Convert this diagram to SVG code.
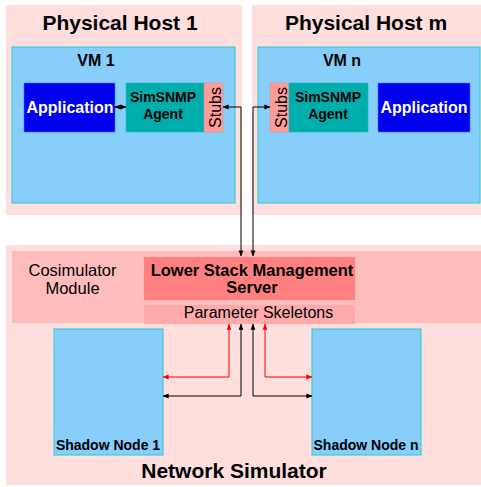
<svg xmlns="http://www.w3.org/2000/svg" width="481" height="487" viewBox="0 0 481 487">
  <style>
    text { font-family: "Liberation Sans", Arial, sans-serif; fill: #000; }
    .b { font-weight: bold; }
    .mid { text-anchor: middle; }
    .host { fill: #ffdede; }
    .vm { fill: #87cefa; stroke: #22cccc; stroke-width: 1; }
    .app { fill: #0000ee; stroke: #4477ff; stroke-width: 0.6; }
    .agent { fill: #00adad; stroke: #22bbbb; stroke-width: 0.6; }
    .stub { fill: #ff9c9c; stroke: #e08080; stroke-width: 0.4; }
    .wire { fill: none; stroke: #000; stroke-width: 1; }
    .wire-red { fill: none; stroke: #ff0000; stroke-width: 1; }
  </style>
  <defs>
    <marker id="ah" viewBox="0 0 8 8" refX="7.5" refY="4" markerWidth="6" markerHeight="6" markerUnits="userSpaceOnUse" orient="auto-start-reverse">
      <path d="M0,0.8 L8,4 L0,7.2 Z" fill="#000"/>
    </marker>
    <marker id="ahr" viewBox="0 0 8 8" refX="7.5" refY="4" markerWidth="6" markerHeight="6" markerUnits="userSpaceOnUse" orient="auto-start-reverse">
      <path d="M0,0.8 L8,4 L0,7.2 Z" fill="#ff0000"/>
    </marker>
  </defs>

  <!-- Physical Host 1 -->
  <g id="host1">
    <rect class="host" x="6" y="5" width="236" height="210"/>
    <text class="b mid" x="120" y="30" font-size="21">Physical Host 1</text>
  </g>
  <g id="vm1">
    <rect class="vm" x="12" y="47" width="223" height="156"/>
    <text class="b mid" x="96" y="66" font-size="16">VM 1</text>
  </g>
  <g id="app1">
    <rect class="app" x="24" y="83" width="91" height="49"/>
    <text class="b mid" x="70" y="113" font-size="16" style="fill:#fff">Application</text>
  </g>
  <g id="agent1">
    <rect class="agent" x="126" y="83" width="78" height="49"/>
    <text class="b mid" x="163" y="102" font-size="14">SimSNMP</text>
    <text class="b mid" x="163" y="119" font-size="14">Agent</text>
  </g>
  <g id="stubs1">
    <rect class="stub" x="204" y="83" width="19" height="49"/>
    <text class="mid" transform="translate(221,107.5) rotate(-90)" font-size="16">Stubs</text>
  </g>

  <!-- Physical Host m -->
  <g id="hostm">
    <rect class="host" x="252" y="5" width="229" height="210"/>
    <text class="b mid" x="366" y="30" font-size="21">Physical Host m</text>
  </g>
  <g id="vmn">
    <rect class="vm" x="258" y="47" width="222" height="156"/>
    <text class="b mid" x="342" y="66" font-size="16">VM n</text>
  </g>
  <g id="stubsn">
    <rect class="stub" x="270" y="83" width="19" height="49"/>
    <text class="mid" transform="translate(287,107.5) rotate(-90)" font-size="16">Stubs</text>
  </g>
  <g id="agentn">
    <rect class="agent" x="289" y="83" width="79" height="49"/>
    <text class="b mid" x="328" y="102" font-size="14">SimSNMP</text>
    <text class="b mid" x="328" y="119" font-size="14">Agent</text>
  </g>
  <g id="appn">
    <rect class="app" x="378" y="83" width="92" height="49"/>
    <text class="b mid" x="424" y="113" font-size="16" style="fill:#fff">Application</text>
  </g>

  <!-- Network Simulator -->
  <g id="netsim">
    <rect fill="#ffdede" x="6" y="245" width="475" height="240"/>
    <text class="b mid" x="234" y="478" font-size="21">Network Simulator</text>
  </g>
  <g id="cosim">
    <rect fill="#ffbcbc" x="12" y="251" width="469" height="72"/>
    <text class="mid" x="72.5" y="276" font-size="16.5">Cosimulator</text>
    <text class="mid" x="72.5" y="294" font-size="16.5">Module</text>
  </g>
  <g id="lsms">
    <rect fill="#ff8080" x="144" y="257" width="211" height="43"/>
    <text class="b mid" x="252" y="276" font-size="16.5">Lower Stack Management</text>
    <text class="b mid" x="252" y="293" font-size="16.5">Server</text>
  </g>
  <g id="skeletons">
    <rect fill="#ffaaaa" x="144" y="305" width="211" height="19"/>
    <text class="mid" x="258.5" y="318" font-size="16">Parameter Skeletons</text>
  </g>
  <g id="shadow1">
    <rect class="vm" x="54" y="329" width="109" height="126"/>
    <text class="b mid" x="108" y="450" font-size="14">Shadow Node 1</text>
  </g>
  <g id="shadown">
    <rect class="vm" x="312" y="329" width="109" height="126"/>
    <text class="b mid" x="366" y="450" font-size="14">Shadow Node n</text>
  </g>

  <!-- Connectors -->
  <g id="connectors">
    <path class="wire" d="M115,107 H126" marker-start="url(#ah)" marker-end="url(#ah)"/>
    <path class="wire" d="M223,107 H241 V256" marker-start="url(#ah)" marker-end="url(#ah)"/>
    <path class="wire" d="M270,107 H253 V256" marker-start="url(#ah)" marker-end="url(#ah)"/>
    <path class="wire-red" d="M229,324 V377 H163" marker-start="url(#ahr)" marker-end="url(#ahr)"/>
    <path class="wire" d="M241,324 V396 H163" marker-start="url(#ah)" marker-end="url(#ah)"/>
    <path class="wire" d="M253,324 V396 H312" marker-start="url(#ah)" marker-end="url(#ah)"/>
    <path class="wire-red" d="M265,324 V377 H312" marker-start="url(#ahr)" marker-end="url(#ahr)"/>
  </g>
</svg>
